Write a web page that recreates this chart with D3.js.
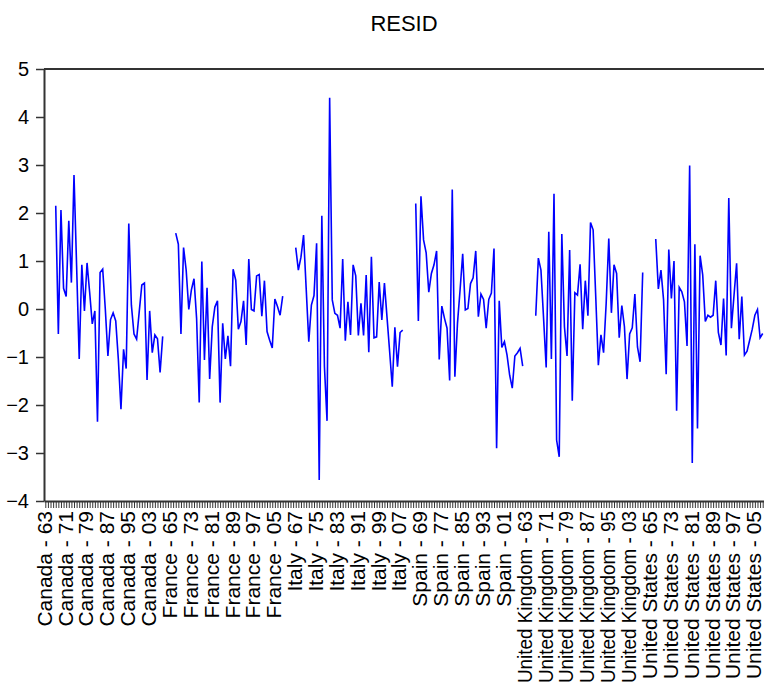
<!DOCTYPE html>
<html>
<head>
<meta charset="utf-8">
<script src="https://cdn.jsdelivr.net/npm/d3@7"></script>
<style>
  html, body { margin: 0; padding: 0; background: #fff; }
  svg { display: block; font-family: "Liberation Sans", Arial, sans-serif; }
</style>
</head>
<body>
<svg id="chart" width="764" height="688"></svg>
<script>
// ---- data ----
const title = "RESID";
const countries = ["Canada", "France", "Italy", "Spain", "United Kingdom", "United States"];
const years = d3.range(1963, 2009);          // sample per country
const firstDataYear = 1967;                  // residuals exist from 1967
const yTicks = [-4, -3, -2, -1, 0, 1, 2, 3, 4, 5];

const residCanada = [2.15,-0.52,2.06,0.43,0.26,1.84,0.55,2.79,0.9,-1.04,0.92,-0.04,0.96,0.35,-0.31,-0.04,-2.35,0.76,0.83,0.0,-0.98,-0.22,-0.08,-0.25,-1.05,-2.09,-0.84,-1.24,1.78,0.08,-0.52,-0.63,-0.06,0.5,0.54,-1.48,-0.04,-0.91,-0.54,-0.62,-1.32,-0.57];
const residFrance = [1.58,1.35,-0.52,1.28,0.81,-0.01,0.40,0.63,-0.2,-1.95,0.99,-1.06,0.44,-1.46,-0.37,0.04,0.17,-1.95,-0.30,-1.04,-0.56,-1.19,0.83,0.60,-0.42,-0.26,0.17,-0.75,1.04,-0.01,-0.04,0.69,0.72,-0.15,0.59,-0.47,-0.65,-0.81,0.21,0.05,-0.13,0.27];
const residItaly = [1.28,0.81,1.08,1.54,0.43,-0.68,0.08,0.28,1.37,-3.56,1.94,-1.2,-2.33,4.40,0.19,-0.09,-0.13,-0.40,1.04,-0.66,0.15,-0.54,0.92,0.69,-0.55,0.12,-0.55,0.71,-0.90,1.09,-0.60,-0.58,0.56,-0.23,0.54,-0.18,-0.89,-1.62,-0.38,-1.20,-0.49,-0.44];
const residSpain = [2.20,-0.25,2.35,1.44,1.17,0.35,0.74,0.92,1.21,-1.05,0.06,-0.19,-0.40,-1.49,2.49,-1.41,-0.3,0.4,1.15,-0.02,0.01,0.53,0.65,1.21,-0.16,0.31,0.20,-0.40,0.2,0.33,1.26,-2.90,0.17,-0.80,-0.68,-0.96,-1.38,-1.65,-0.98,-0.91,-0.82,-1.19];
const residUK = [-0.14,1.06,0.81,-0.19,-1.22,1.61,-1.04,2.40,-2.73,-3.08,1.56,-0.37,-0.98,1.23,-1.91,0.34,0.29,0.93,-0.42,0.59,-0.14,1.80,1.65,0.26,-1.17,-0.54,-0.91,0.12,1.47,-0.08,0.92,0.74,-0.60,0.07,-0.37,-1.46,-0.52,-0.39,0.31,-0.79,-1.10,0.76];
const residUS = [1.46,0.42,0.81,0.19,-1.36,1.24,0.22,1.0,-2.12,0.45,0.36,0.15,-0.77,2.99,-3.21,1.35,-2.49,1.11,0.71,-0.26,-0.13,-0.17,-0.13,0.59,-0.49,-0.75,0.22,-0.97,2.31,-0.40,0.28,0.95,-0.63,0.26,-0.96,-0.88,-0.65,-0.42,-0.13,-0.01,-0.60,-0.51];
const residByCountry = [residCanada, residFrance, residItaly, residSpain, residUK, residUS];

// ---- build the stacked panel observations ----
const obs = [];
countries.forEach((c, ci) => {
  years.forEach(yr => {
    const yy = String(yr % 100).padStart(2, "0");
    const v = yr >= firstDataYear ? residByCountry[ci][yr - firstDataYear] : null;
    obs.push({ key: c + " - " + yy, v: v });
  });
});

// ---- layout ----
const svg = d3.select("#chart");
const plotLeft = 44, plotRight = 764, plotTop = 69, plotBottom = 501;

const x = d3.scalePoint().domain(obs.map(d => d.key)).range([plotLeft, plotRight]).padding(0.5);
const y = d3.scaleLinear().domain([-4, 5]).range([plotBottom, plotTop]);

const axisColor = "#333";

// title
svg.append("text")
  .attr("x", (plotLeft + plotRight) / 2).attr("y", 31)
  .attr("text-anchor", "middle")
  .attr("font-size", 22)
  .attr("fill", "#000")
  .text(title);

// top frame line
svg.append("line")
  .attr("x1", plotLeft).attr("x2", plotRight).attr("y1", plotTop).attr("y2", plotTop)
  .attr("stroke", axisColor).attr("stroke-width", 2);

// y axis
const gy = svg.append("g")
  .attr("transform", `translate(${plotLeft},0)`)
  .call(d3.axisLeft(y).tickValues(yTicks).tickSize(8).tickSizeOuter(0).tickPadding(7).tickFormat(d3.format("d")));
gy.select(".domain").attr("stroke", axisColor).attr("stroke-width", 2);
gy.selectAll(".tick line").attr("stroke", axisColor).attr("stroke-width", 1.5);
gy.selectAll(".tick text").attr("font-size", 20).attr("fill", "#000")
  .attr("font-family", "'Liberation Sans', Arial, sans-serif");

// x axis
const gx = svg.append("g")
  .attr("transform", `translate(0,${plotBottom})`)
  .call(d3.axisBottom(x).tickSize(7).tickSizeOuter(0)
        .tickFormat((d, i) => i % 8 === 0 ? d : ""));
gx.select(".domain").attr("stroke", axisColor).attr("stroke-width", 2);
gx.selectAll(".tick line").attr("stroke", axisColor).attr("stroke-width", 1);
gx.selectAll(".tick text")
  .attr("font-size", 21)
  .attr("fill", "#000")
  .attr("font-family", "'Liberation Sans', Arial, sans-serif")
  .attr("text-anchor", "end")
  .attr("transform", "rotate(-90)")
  .attr("x", -10).attr("y", 0).attr("dy", "0.28em")
  .each(function () {
    const t = d3.select(this);
    if (t.text() !== "" && this.getComputedTextLength() > 172) {
      t.attr("textLength", 172).attr("lengthAdjust", "spacingAndGlyphs");
    }
  });

// residual line
const line = d3.line()
  .defined(d => d.v !== null)
  .x(d => x(d.key))
  .y(d => y(d.v));

svg.append("path")
  .datum(obs)
  .attr("d", line)
  .attr("fill", "none")
  .attr("stroke", "#0000ff")
  .attr("stroke-width", 1.6)
  .attr("stroke-linejoin", "miter");
</script>
</body>
</html>
